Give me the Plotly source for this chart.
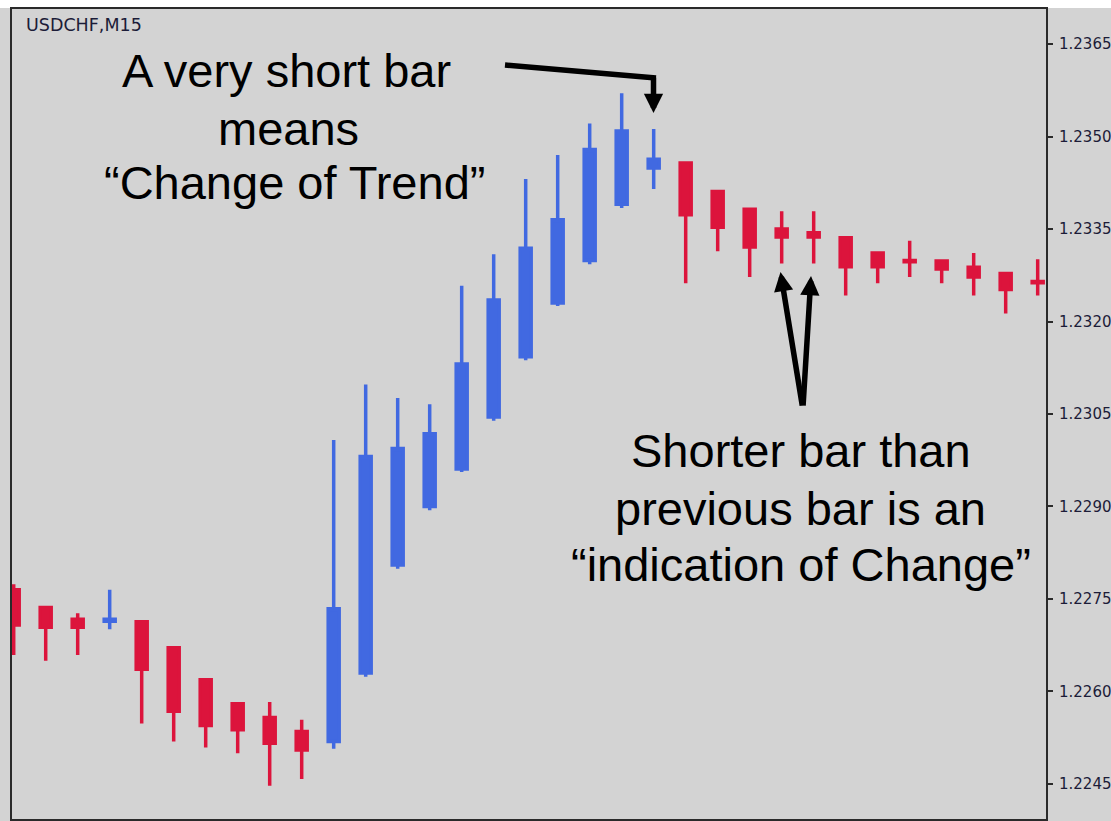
import plotly.graph_objects as go

# USDCHF M15 bars (index 0 = leftmost, partly hidden bar)
bars = list(range(33))
opens = [1.22765, 1.22736, 1.22717, 1.22714, 1.22713, 1.22671, 1.22619, 1.22580, 1.22558, 1.22535,
         1.22519, 1.22630, 1.22805, 1.22900, 1.22961, 1.23045, 1.23143, 1.23230, 1.23299, 1.23390,
         1.23449, 1.23457, 1.23411, 1.23382, 1.23350, 1.23344, 1.23336, 1.23311, 1.23299, 1.23298,
         1.23288, 1.23278, 1.23265]
highs = [1.22774, 1.22737, 1.22727, 1.22765, 1.22713, 1.22671, 1.22619, 1.22580, 1.22583, 1.22554,
         1.23008, 1.23098, 1.23076, 1.23066, 1.23258, 1.23309, 1.23431, 1.23470, 1.23521, 1.23570,
         1.23512, 1.23457, 1.23411, 1.23382, 1.23379, 1.23379, 1.23336, 1.23311, 1.23331, 1.23298,
         1.23311, 1.23278, 1.23301]
lows = [1.22659, 1.22650, 1.22659, 1.22701, 1.22548, 1.22519, 1.22509, 1.22500, 1.22447, 1.22458,
        1.22507, 1.22624, 1.22799, 1.22894, 1.22956, 1.23039, 1.23137, 1.23225, 1.23293, 1.23384,
        1.23415, 1.23262, 1.23314, 1.23272, 1.23294, 1.23294, 1.23242, 1.23262, 1.23272, 1.23262,
        1.23242, 1.23213, 1.23242]
closes = [1.22708, 1.22704, 1.22704, 1.22717, 1.22636, 1.22568, 1.22545, 1.22538, 1.22516, 1.22505,
          1.22734, 1.22981, 1.22994, 1.23018, 1.23131, 1.23235, 1.23319, 1.23365, 1.23479, 1.23509,
          1.23463, 1.23373, 1.23353, 1.23321, 1.23337, 1.23337, 1.23289, 1.23289, 1.23297, 1.23285,
          1.23272, 1.23252, 1.23263]

price_ticks = [1.2245, 1.2260, 1.2275, 1.2290, 1.2305, 1.2320, 1.2335, 1.2350, 1.2365]

BLUE = "#4169E1"
RED = "#DC143C"
BG = "#d3d3d3"
FRAME = "#2a2a2a"

W, H = 1111, 821
L, R, T, B = 12, 65, 9, 2


def px_x(px):
    return (px - L) / (W - L - R)


def px_y(py):
    return (H - B - py) / (H - T - B)


fig = go.Figure()
fig.add_trace(go.Candlestick(
    x=bars, open=opens, high=highs, low=lows, close=closes,
    increasing=dict(line=dict(color=BLUE, width=3.5), fillcolor=BLUE),
    decreasing=dict(line=dict(color=RED, width=3.5), fillcolor=RED),
    whiskerwidth=0, hoverinfo="skip",
))

text_font = dict(family="Liberation Sans, Arial", size=47, color="black")
lines = [
    ("A very short bar", 286, 71),
    ("means", 288, 128),
    ("\u201cChange of Trend\u201d", 294, 183),
    ("Shorter bar than", 801, 450),
    ("previous bar is an", 800, 508),
    ("\u201cindication of Change\u201d", 801, 564),
]
annotations = []
for txt, cx, cy in lines:
    annotations.append(dict(x=px_x(cx), y=px_y(cy), xref="paper", yref="paper",
                            text=txt, showarrow=False, font=text_font,
                            xanchor="center", yanchor="middle"))

annotations.append(dict(x=px_x(24), y=px_y(25), xref="paper", yref="paper",
                        text="USDCHF,M15", showarrow=False,
                        font=dict(family="DejaVu Sans", size=17.5, color="#1c1c38"),
                        xanchor="left", yanchor="middle"))

arrow = dict(xref="paper", yref="paper", text="", showarrow=True, arrowhead=2,
             arrowsize=0.7, arrowwidth=5.5, arrowcolor="black", standoff=0, startstandoff=0)
annotations.append(dict(arrow, x=px_x(653.5), y=px_y(113), ax=0, ay=-37))
annotations.append(dict(arrow, x=px_x(780.5), y=px_y(272), ax=22, ay=135))
annotations.append(dict(arrow, x=px_x(811), y=px_y(276), ax=-8, ay=131))

fig.update_layout(
    width=W, height=H,
    margin=dict(l=L, r=R, t=T, b=B, autoexpand=False),
    paper_bgcolor=BG, plot_bgcolor=BG,
    showlegend=False,
    boxgap=0.656, boxgroupgap=0,
    annotations=annotations,
    shapes=[
        dict(type="rect", xref="paper", yref="paper", x0=-0.05, x1=1.1,
             y0=px_y(8), y1=px_y(-2), fillcolor="white", line=dict(width=0), layer="below"),
        dict(type="line", xref="paper", yref="paper", x0=px_x(505), y0=px_y(65),
             x1=px_x(656), y1=px_y(78), line=dict(color="black", width=5.5)),
    ],
    xaxis=dict(range=[-0.053, 32.26], showticklabels=False, showgrid=False, zeroline=False,
               ticks="", showline=True, mirror=True, linecolor=FRAME, linewidth=2,
               rangeslider=dict(visible=False), fixedrange=True),
    yaxis=dict(range=[1.223932, 1.237068], side="right", tickvals=price_ticks, tickformat=".4f",
               ticks="outside", ticklen=5, tickwidth=2, tickcolor=FRAME,
               tickfont=dict(family="DejaVu Sans", size=15, color="#1c1c38"),
               showgrid=False, zeroline=False, showline=True, mirror=True,
               linecolor=FRAME, linewidth=2, ticklabelstandoff=3, fixedrange=True),
)

fig.write_html("out.html", config={"displayModeBar": False},
               post_script="document.body.style.margin='0';document.body.style.overflow='hidden';")
